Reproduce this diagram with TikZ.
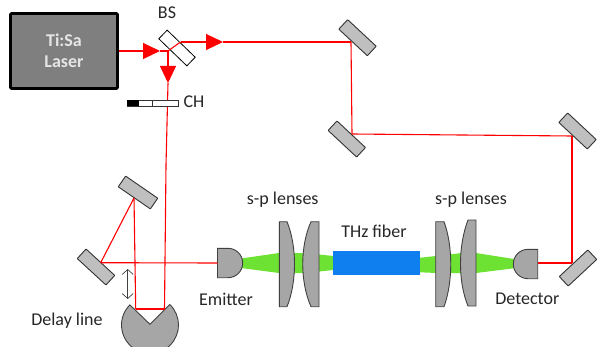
\documentclass[tikz,border=0pt]{standalone}
\usepackage{fontspec}
\setmainfont{Carlito}
\usetikzlibrary{arrows.meta}
\definecolor{mirrorgray}{RGB}{191,191,191}
\definecolor{lensgray}{RGB}{166,166,166}
\definecolor{lasergray}{RGB}{127,127,127}
\definecolor{beamgreen}{RGB}{110,226,50}
\definecolor{fiberblue}{RGB}{15,127,240}
\tikzset{
  beam/.style={draw=red,line width=1.1pt},
  beamtip/.style={beam,-{Triangle[width=16pt,length=17pt,fill=red]}},
  mirror/.style={draw=black!80,fill=mirrorgray,line width=0.9pt,rounded corners=0.5pt,
    minimum width=39pt,minimum height=13pt,inner sep=0pt},
  optic/.style={draw=black!75,fill=lensgray,line width=0.9pt},
  lbl/.style={font=\fontsize{18}{22}\selectfont,inner sep=0pt,text=black!85}
}
\begin{document}
\begin{tikzpicture}[x=1pt,y=1pt]
      \clip (0,0) rectangle (597,346);
      \node[draw=black,fill=lasergray,line width=2.6pt,rounded corners=1pt,minimum width=107pt,minimum height=75pt,
        align=center,text=black!10,font=\fontsize{18}{21}\selectfont\bfseries] (laser) at (64,295) {Ti:Sa\\Laser};
      \node[draw=black,fill=white,line width=0.8pt,minimum width=39pt,minimum height=12pt,inner sep=0pt,rotate=-44] (bs) at (177,298) {};

      \coordinate (split) at (168,295);
      \coordinate (turn) at (180.5,304);
      \coordinate (tipa) at (160,295);
      \coordinate (tipb) at (223,304);
      \coordinate (tipc) at (168,263);
      \coordinate (chop) at (166,181);
      \coordinate (retroa) at (164.5,37);
      \coordinate (retrob) at (135.7,37);
      \coordinate (fold) at (134,148);
      \coordinate (folda) at (100.7,83.3);
      \coordinate (hita) at (351,304);
      \coordinate (hitb) at (352,212);
      \coordinate (hitc) at (572,210);
      \coordinate (hitd) at (572,83);
      \coordinate (emitter) at (217.5,83);
      \coordinate (detector) at (537.7,83);

      \node[mirror,rotate=-34.6] (m0) at (138,153.5) {};
      \node[mirror,rotate=-42.6] (m5) at (96,79) {};
      \node[mirror,rotate=-43] (m1) at (357.5,308.3) {};
      \node[mirror,rotate=-43] (m2) at (346.8,207) {};
      \node[mirror,rotate=-43] (m3) at (577.5,215) {};
      \node[mirror,rotate=43] (m4) at (578,78) {};

      \fill[beamgreen] (241,87.5) -- (279,93) -- (305,93) -- (333.5,90) -- (333.5,76) -- (305,73) -- (279,73) -- (241,78) -- cycle;
      \fill[beamgreen] (420,88.3) -- (436,90) -- (462,93) -- (476,93) -- (514,87) -- (514,77.7) -- (476,73) -- (462,73) -- (436,73) -- (420,73.7) -- cycle;
      \node[fill=fiberblue,minimum width=86.7pt,minimum height=24pt,inner sep=0pt] (fiber) at (376.7,83.3) {};

      \begin{scope}[optic]
        \draw[optic] (279.3,124.3) -- (287,124.3) .. controls (297,100) and (297,64) .. (287,39.3) -- (279.3,39.3) -- cycle;
        \draw[optic] (319,124.3) -- (311,124.3) .. controls (300,100) and (300,64) .. (311,39.3) -- (319,39.3) -- cycle;
        \draw[optic] (435.7,124.3) -- (444,124.3) .. controls (453,100) and (453,64) .. (444,39.3) -- (435.7,39.3) -- cycle;
        \draw[optic] (476,126) -- (468,126) .. controls (458,100) and (458,64) .. (468,40) -- (476,40) -- cycle;
        \draw[optic] (217.5,97.7) -- (228,97.7) arc (90:-90:14.7) -- (217.5,68.3) -- cycle;
        \draw[optic] (537.7,96.7) -- (528,96.7) arc (90:270:14.7) -- (537.7,67.3) -- cycle;
        \draw[optic] (150,21.7) -- (169.8,41.5) arc (46:-225:28.5) -- cycle;
      \end{scope}

      \begin{scope}[beam]
        \draw[beamtip] (laser.east |- split) -- (tipa);
        \draw[beam] (tipa) -- (split);
        \draw[beam] (split) -- (turn);
        \draw[beamtip] (turn) -- (tipb);
        \draw[beam] (tipb) -- (hita);
        \draw[beam] (hita) -- (hitb);
        \draw[beam] (hitb) -- (hitc);
        \draw[beam] (hitc) -- (hitd);
        \draw[beam] (hitd) -- (detector);
        \draw[beamtip] (split) -- (tipc);
        \draw[beam] (tipc) -- (chop);
        \draw[beam] (chop) -- (retroa);
        \draw[beam] (retroa) -- (retrob);
        \draw[beam] (retrob) -- (fold);
        \draw[beam] (fold) -- (folda);
        \draw[beam] (folda) -- (emitter);
      \end{scope}

      \node[draw=black!80,fill=white,line width=0.8pt,minimum width=51pt,minimum height=5.5pt,inner sep=0pt] (chopper) at (152.5,242.7) {};
      \fill[black] (chopper.south west) rectangle (139,245.5);
      \draw[black!80,line width=0.8pt] (152,240) -- (152,245.5);

      \coordinate (delaya) at (127.7,77);
      \coordinate (delayb) at (127.7,47);
      \draw[black!75,line width=0.7pt,{Straight Barb[length=5pt,width=11pt]}-{Straight Barb[length=5pt,width=11pt]}] (delaya) -- (delayb);

      \node[lbl] (bslabel) at (167,333) {BS};
      \node[lbl] (chlabel) at (194,244) {CH};
      \node[lbl] (delaylabel) at (67,25) {Delay line};
      \node[lbl] (emitterlabel) at (226,47) {Emitter};
      \node[lbl] (splabela) at (282.7,146.7) {s-p lenses};
      \node[lbl] (fiberlabel) at (374,114.3) {THz fiber};
      \node[lbl] (splabelb) at (471,146) {s-p lenses};
      \node[lbl] (detectorlabel) at (527.3,47) {Detector};
    \end{tikzpicture}
\end{document}
